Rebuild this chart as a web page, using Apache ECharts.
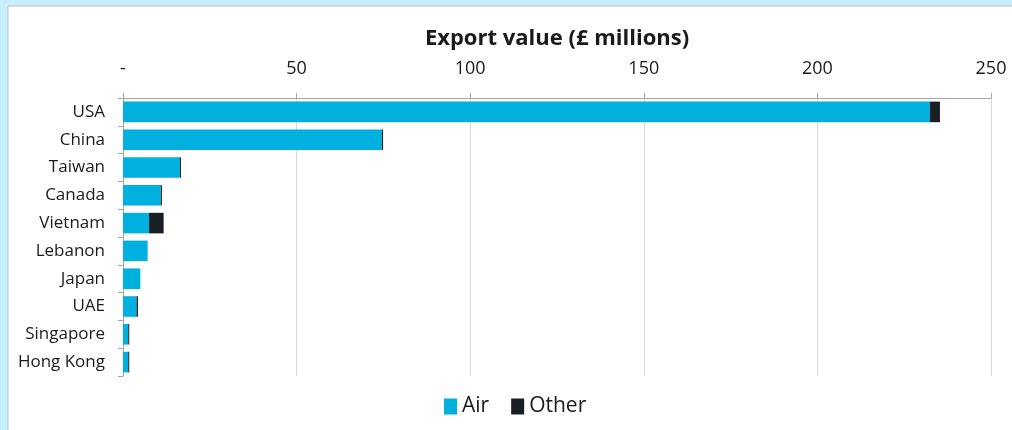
<!DOCTYPE html>
<html>
<head>
<meta charset="utf-8">
<script src="https://cdn.jsdelivr.net/npm/echarts@6/dist/echarts.min.js"></script>
<style>
  html, body { margin: 0; padding: 0; }
  #main { width: 1012px; height: 430px; }
</style>
</head>
<body>
<div id="main"></div>
<script>
// countries, top to bottom
var countries = ['USA', 'China', 'Taiwan', 'Canada', 'Vietnam', 'Lebanon', 'Japan', 'UAE', 'Singapore', 'Hong Kong'];
// £ millions
var airValues = [232.4, 74.6, 16.4, 10.9, 7.5, 7.1, 5.0, 3.9, 1.5, 1.5];
var otherValues = [2.9, 0.3, 0.3, 0.3, 4.2, 0, 0, 0.4, 0.3, 0.3];
var xTicks = [0, 50, 100, 150, 200, 250];

var chart = echarts.init(document.getElementById('main'));
var font = '"Open Sans", sans-serif';

var option = {
  backgroundColor: '#c6effd',
  textStyle: { fontFamily: font },
  graphic: [{
    type: 'rect',
    z: -10,
    shape: { x: 8, y: 6, width: 1010, height: 430 },
    style: { fill: '#ffffff', stroke: '#bfbfbf', lineWidth: 1 }
  }],
  legend: {
    bottom: 8,
    left: 439,
    icon: 'rect',
    itemWidth: 13,
    itemHeight: 16,
    itemGap: 22,
    textStyle: { fontSize: 21, color: '#1a1a1a', fontFamily: font },
    data: ['Air', 'Other']
  },
  grid: { left: 123, right: 21, top: 98, bottom: 54 },
  xAxis: {
    type: 'value',
    position: 'top',
    min: xTicks[0],
    max: xTicks[xTicks.length - 1],
    interval: 50,
    name: 'Export value (£ millions)',
    nameLocation: 'middle',
    nameGap: 48,
    nameTextStyle: { fontSize: 22, fontWeight: 'bold', color: '#1a1a1a', fontFamily: font },
    axisLine: { show: true, lineStyle: { color: '#a6a6a6' } },
    axisTick: { show: true, length: 5, lineStyle: { color: '#a6a6a6' } },
    axisLabel: {
      fontSize: 18,
      color: '#1a1a1a',
      margin: 20,
      formatter: function (v) { return v === 0 ? '-' : String(v); }
    },
    splitLine: { show: true, lineStyle: { color: '#d9d9d9' } }
  },
  yAxis: {
    type: 'category',
    inverse: true,
    data: countries,
    axisLine: { show: true, lineStyle: { color: '#a6a6a6' } },
    axisTick: { show: true, length: 5, lineStyle: { color: '#a6a6a6' } },
    axisLabel: { fontSize: 17, color: '#1a1a1a', margin: 18 }
  },
  series: [{
    name: 'Air',
    type: 'bar',
    stack: 'total',
    data: airValues,
    barCategoryGap: '26%',
    itemStyle: { color: '#00b0df' }
  }, {
    name: 'Other',
    type: 'bar',
    stack: 'total',
    data: otherValues,
    itemStyle: { color: '#1a1e25' }
  }]
};
chart.setOption(option);
</script>
</body>
</html>
